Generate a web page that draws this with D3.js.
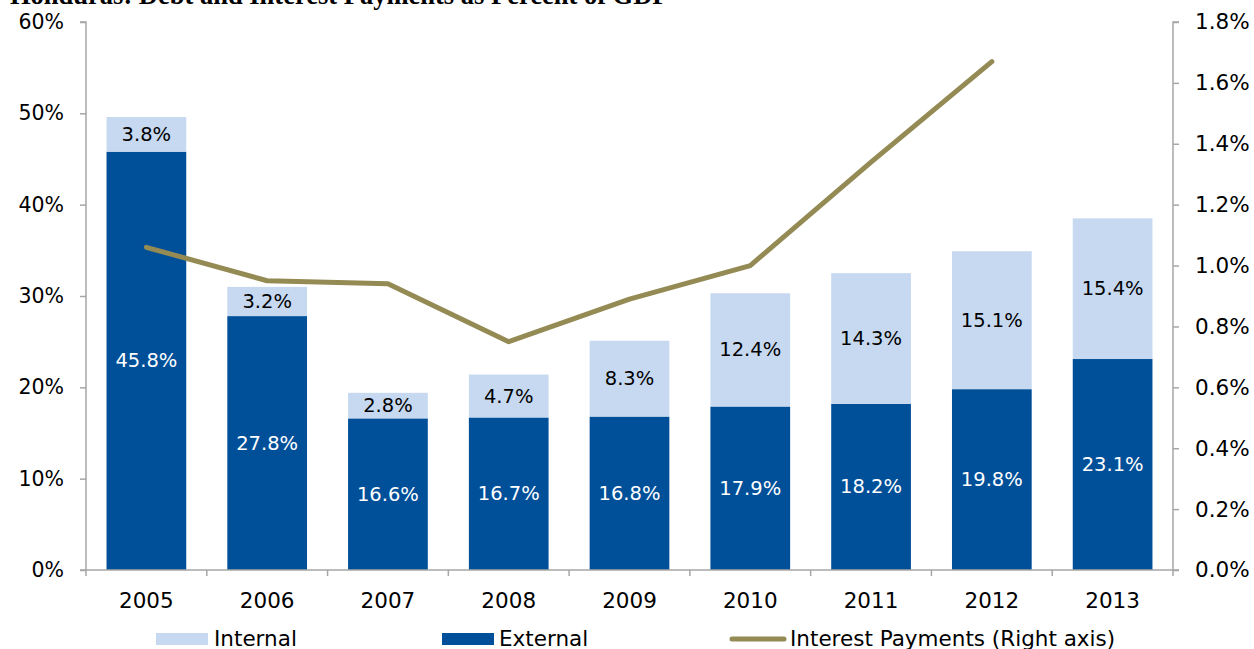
<!DOCTYPE html>
<html><head><meta charset="utf-8">
<script src="https://cdn.jsdelivr.net/npm/d3@7"></script>
<style>
html,body{margin:0;padding:0;background:#fff;}
svg{display:block;font-family:"DejaVu Sans",Verdana,sans-serif;}
</style></head>
<body>
<svg id="c" width="1254" height="649"></svg>
<script>
const years = ["2005","2006","2007","2008","2009","2010","2011","2012","2013"];
const external = [45.8, 27.8, 16.6, 16.7, 16.8, 17.9, 18.2, 19.8, 23.1];
const internal = [3.8, 3.2, 2.8, 4.7, 8.3, 12.4, 14.3, 15.1, 15.4];
const interest = [1.06, 0.95, 0.94, 0.75, 0.89, 1.00, 1.34, 1.67, null];
const leftTicks = [0, 10, 20, 30, 40, 50, 60];
const rightTicks = [0, 0.2, 0.4, 0.6, 0.8, 1.0, 1.2, 1.4, 1.6, 1.8];
const titleText = "Honduras: Debt and Interest Payments as Percent of GDP";
const legendLabels = ["Internal", "External", "Interest Payments (Right axis)"];

const C_DARK = "#004F99", C_LIGHT = "#C6D9F1", C_LINE = "#948A54", C_AXIS = "#A6A6A6";
const svg = d3.select("#c");
const L = 86, R = 1173, T = 22, B = 570;

const x = d3.scaleBand().domain(years).range([L, R]).paddingInner(0.34).paddingOuter(0.17);
const yL = d3.scaleLinear().domain([0, 60]).range([B, T]);
const yR = d3.scaleLinear().domain([0, 1.8]).range([B, T]);

// title (cut at top, as in the reference)
svg.append("text").attr("x", 10).attr("y", 4)
  .attr("font-family", "'Liberation Serif','Times New Roman',serif")
  .attr("font-weight", "bold").attr("font-size", 26.5).attr("fill", "#000")
  .text(titleText);

// bars
const g = svg.append("g");
years.forEach((yr, i) => {
  const x0 = x(yr), w = x.bandwidth();
  g.append("rect").attr("x", x0).attr("width", w)
    .attr("y", yL(external[i])).attr("height", yL(0) - yL(external[i])).attr("fill", C_DARK);
  g.append("rect").attr("x", x0).attr("width", w)
    .attr("y", yL(external[i] + internal[i])).attr("height", yL(external[i]) - yL(external[i] + internal[i])).attr("fill", C_LIGHT);
  g.append("text").attr("x", x0 + w / 2).attr("y", (yL(0) + yL(external[i])) / 2)
    .attr("text-anchor", "middle").attr("dominant-baseline", "central")
    .attr("font-size", 19.5).attr("fill", "#fff").text(external[i].toFixed(1) + "%");
  g.append("text").attr("x", x0 + w / 2).attr("y", (yL(external[i]) + yL(external[i] + internal[i])) / 2)
    .attr("text-anchor", "middle").attr("dominant-baseline", "central")
    .attr("font-size", 19.5).attr("fill", "#000").text(internal[i].toFixed(1) + "%");
});

// axes
const axL = svg.append("g").attr("transform", `translate(${L},0)`)
  .call(d3.axisLeft(yL).tickValues(leftTicks).tickFormat(d => d + "%").tickSize(6).tickPadding(16));
const axR = svg.append("g").attr("transform", `translate(${R},0)`)
  .call(d3.axisRight(yR).tickValues(rightTicks).tickFormat(d => d.toFixed(1) + "%").tickSize(6).tickPadding(16));
[axL, axR].forEach(a => {
  a.select(".domain").attr("stroke", C_AXIS).attr("stroke-width", 1.5);
  a.selectAll(".tick line").attr("stroke", C_AXIS).attr("stroke-width", 1.5);
  a.selectAll(".tick text").attr("fill", "#000")
    .attr("font-family", "'DejaVu Sans',Verdana,sans-serif");
});
axL.selectAll(".tick text").attr("font-size", 20.5);
axR.selectAll(".tick text").attr("font-size", 21.5);
axL.select(".domain").attr("d", `M-6,${T}H0V${B}H-6`);
axR.select(".domain").attr("d", `M6,${T}H0V${B}H6`);

// x axis
const ax = svg.append("g").attr("transform", `translate(0,${B})`);
ax.append("line").attr("x1", L).attr("x2", R).attr("stroke", C_AXIS).attr("stroke-width", 1.5);
const step = x.step();
d3.range(years.length + 1).forEach(k => {
  const xx = L + k * step;
  ax.append("line").attr("x1", xx).attr("x2", xx).attr("y1", 0).attr("y2", 6)
    .attr("stroke", C_AXIS).attr("stroke-width", 1.5);
});
years.forEach(yr => {
  ax.append("text").attr("x", x(yr) + x.bandwidth() / 2).attr("y", 38)
    .attr("text-anchor", "middle").attr("font-size", 21.5).attr("fill", "#000").text(yr);
});

// interest line
const line = d3.line().defined(d => d != null)
  .x((d, i) => x(years[i]) + x.bandwidth() / 2).y(d => yR(d));
svg.append("path").datum(interest).attr("d", line)
  .attr("fill", "none").attr("stroke", C_LINE).attr("stroke-width", 5)
  .attr("stroke-linecap", "round").attr("stroke-linejoin", "round");

// legend
const lg = svg.append("g");
const ly = 638;
lg.append("rect").attr("x", 156).attr("y", ly - 5).attr("width", 52).attr("height", 12).attr("fill", C_LIGHT);
lg.append("text").attr("x", 214).attr("y", ly).attr("dominant-baseline", "central").attr("font-size", 21.5).text(legendLabels[0]);
lg.append("rect").attr("x", 442).attr("y", ly - 5).attr("width", 52).attr("height", 12).attr("fill", C_DARK);
lg.append("text").attr("x", 499).attr("y", ly).attr("dominant-baseline", "central").attr("font-size", 21.5).text(legendLabels[1]);
lg.append("line").attr("x1", 732).attr("x2", 784).attr("y1", ly + 1).attr("y2", ly + 1)
  .attr("stroke", C_LINE).attr("stroke-width", 5).attr("stroke-linecap", "round");
lg.append("text").attr("x", 790).attr("y", ly).attr("dominant-baseline", "central").attr("font-size", 21.5).text(legendLabels[2]);
</script>
</body></html>
